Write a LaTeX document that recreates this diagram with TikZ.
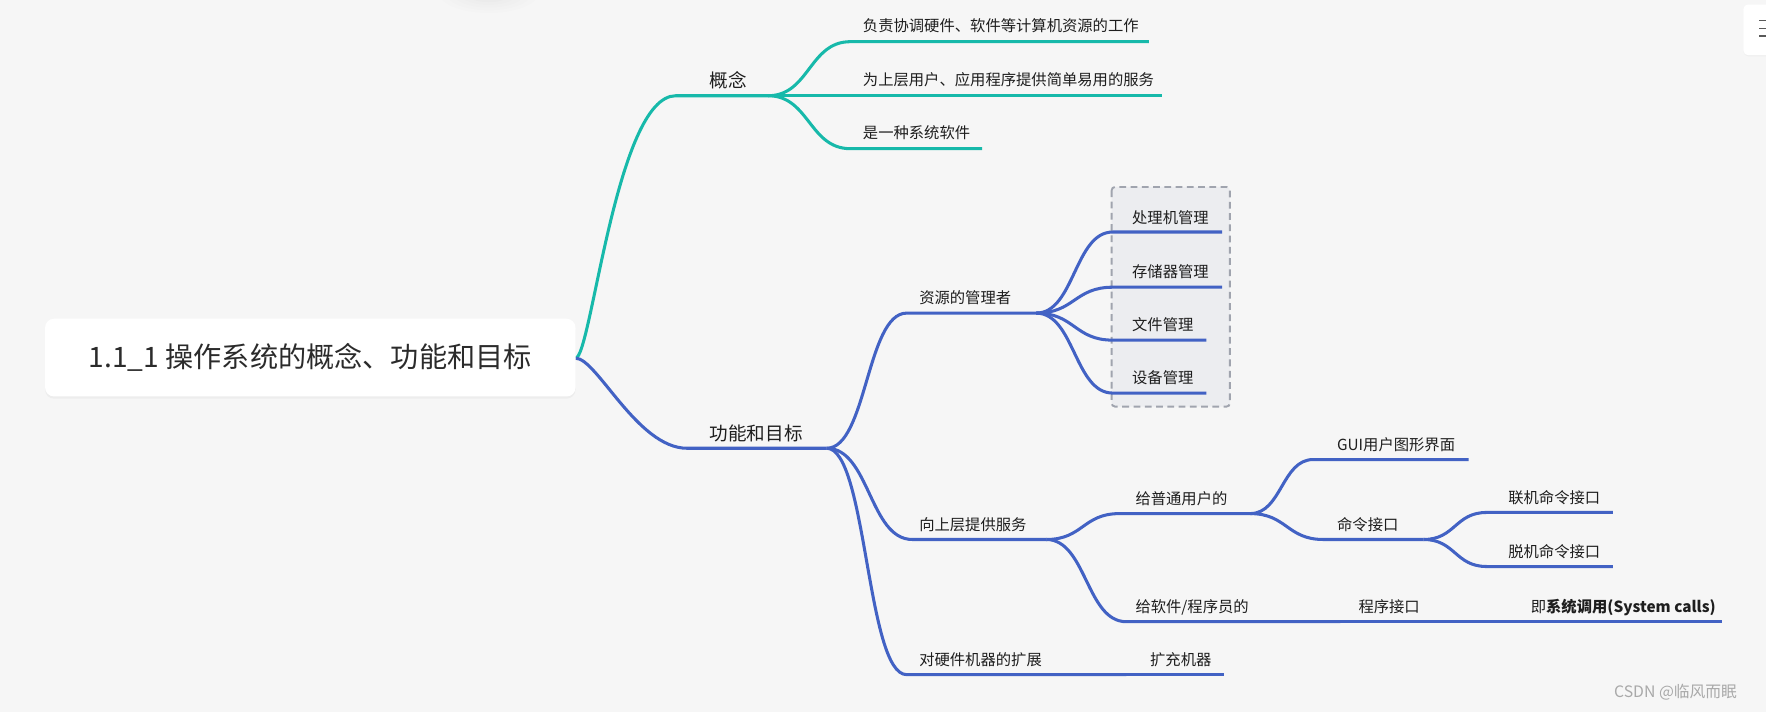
\documentclass[tikz,border=0pt]{standalone}
\usepackage{fontspec}
\setmainfont{Noto Sans CJK SC}
\usetikzlibrary{calc,shadows}
\definecolor{bg}{HTML}{F6F6F6}
\definecolor{tealc}{HTML}{17B9AA}
\definecolor{bluec}{HTML}{4262C4}
\definecolor{txt}{HTML}{1E1E1E}
\definecolor{roottxt}{HTML}{2B2B2B}
\definecolor{boxfill}{HTML}{ECEDF0}
\definecolor{boxline}{HTML}{A0A4AE}
\definecolor{wmark}{HTML}{A9A9A9}
% branch: style, junction, start of horizontal, end of horizontal
\newcommand\mmbranch[4]{\draw[#1] let \p1=(#2), \p2=(#3) in
  (#2) .. controls ({0.5*(\x1+\x2)},\y1) and ({0.5*(\x1+\x2)},\y2) .. (#3) -- (#4);}
\begin{document}
\begin{tikzpicture}[x=1pt,y=-1pt,
  tline/.style={tealc, line width=2.7pt, line join=round},
  bline/.style={bluec, line width=2.7pt, line join=round},
  leaf/.style={anchor=west, inner sep=0pt, text=txt, font=\fontsize{13.6}{16}\selectfont},
  lvl/.style={anchor=west, inner sep=0pt, text=txt, font=\fontsize{16.5}{19}\selectfont},
]
\useasboundingbox (0,0) rectangle (1568,632);
\fill[bg] (0,0) rectangle (1568,632);

% faint shadow at top edge
\foreach \r/\o in {44/0.006,38/0.007,32/0.008,26/0.009,20/0.01}{
  \fill[black, opacity=\o] (434,-6) ellipse [x radius=\r, y radius=0.4*\r];
}
% top-right card
\fill[white, rounded corners=4pt, drop shadow={opacity=0.05, shadow xshift=0pt, shadow yshift=-1pt}] (1548,4) rectangle (1590,49);
\foreach \yy in {18,25,32}{\draw[black!65, line width=1.1pt] (1562,\yy) -- (1568,\yy);}

% coordinates
\coordinate (R) at (511,318);
\coordinate (Cs) at (600,85);  \coordinate (C) at (682,85);
\coordinate (c1s) at (755,37); \coordinate (c1e) at (1020,37);
\coordinate (c2e) at (1032,85);
\coordinate (c3s) at (755,132); \coordinate (c3e) at (872,132);
\coordinate (Fs) at (610,398); \coordinate (F) at (734,398);
\coordinate (Ms) at (805,278); \coordinate (M) at (920,278);
\coordinate (m1s) at (988,206); \coordinate (m1e) at (1085,206);
\coordinate (m2s) at (988,255); \coordinate (m2e) at (1085,255);
\coordinate (m3s) at (988,302); \coordinate (m3e) at (1071,302);
\coordinate (m4s) at (988,349); \coordinate (m4e) at (1071,349);
\coordinate (Ss) at (810,479); \coordinate (S) at (929,479);
\coordinate (Us) at (994,456); \coordinate (U) at (1110,456);
\coordinate (Gs) at (1166,408); \coordinate (Ge) at (1304,408);
\coordinate (Ks) at (1175,479); \coordinate (K) at (1264,479);
\coordinate (k1s) at (1320,455); \coordinate (k1e) at (1432,455);
\coordinate (k2s) at (1320,503); \coordinate (k2e) at (1432,503);
\coordinate (Ps) at (1000,552); \coordinate (P1) at (1190,552);
\coordinate (P2) at (1340,552); \coordinate (Pe) at (1529,552);
\coordinate (Hs) at (805,599); \coordinate (H1) at (1000,599); \coordinate (He) at (1087,599);

% dashed group box
\draw[boxline, fill=boxfill, line width=1.7pt, dash pattern=on 6pt off 4pt, rounded corners=3pt] (987,166) rectangle (1092,361);

% teal branch
\draw[tline] (R) .. controls (525,318) and (547,85) .. (Cs) -- (C);
\mmbranch{tline}{C}{c1s}{c1e}
\draw[tline] (C) -- (c2e);
\mmbranch{tline}{C}{c3s}{c3e}

% blue branch
\draw[bline] (R) .. controls (530,318) and (566,398) .. (Fs) -- (F);
\mmbranch{bline}{F}{Ms}{M}
\mmbranch{bline}{M}{m1s}{m1e}
\mmbranch{bline}{M}{m2s}{m2e}
\mmbranch{bline}{M}{m3s}{m3e}
\mmbranch{bline}{M}{m4s}{m4e}
\mmbranch{bline}{F}{Ss}{S}
\mmbranch{bline}{S}{Us}{U}
\mmbranch{bline}{U}{Gs}{Ge}
\mmbranch{bline}{U}{Ks}{K}
\mmbranch{bline}{K}{k1s}{k1e}
\mmbranch{bline}{K}{k2s}{k2e}
\mmbranch{bline}{S}{Ps}{P1}
\draw[bline] (P1) -- (P2) -- (Pe);
\mmbranch{bline}{F}{Hs}{H1}
\draw[bline] (H1) -- (He);

% root box
\node[fill=white, rounded corners=8pt, minimum width=471pt, minimum height=69pt, inner sep=0pt,
  drop shadow={opacity=0.07, shadow xshift=0pt, shadow yshift=-2pt},
  text=roottxt, font=\fontsize{25}{30}\selectfont] (root) at (275.5,317.5) {1.1\_1 操作系统的概念、功能和目标};

% labels
\node[lvl] (gn) at (630,71) {概念};
\node[leaf] (g1) at (766,23) {负责协调硬件、软件等计算机资源的工作};
\node[leaf] (g2) at (766,71) {为上层用户、应用程序提供简单易用的服务};
\node[leaf] (g3) at (766,118) {是一种系统软件};
\node[lvl] (fn) at (630,385) {功能和目标};
\node[leaf] (zy) at (816,264) {资源的管理者};
\node[leaf] (z1) at (1005,193) {处理机管理};
\node[leaf] (z2) at (1005,241) {存储器管理};
\node[leaf] (z3) at (1005,288) {文件管理};
\node[leaf] (z4) at (1005,335) {设备管理};
\node[leaf] (xs) at (816,466) {向上层提供服务};
\node[leaf] (pt) at (1008,443) {给普通用户的};
\node[leaf] (gui) at (1187,395) {GUI用户图形界面};
\node[leaf] (ml) at (1187,466) {命令接口};
\node[leaf] (lj) at (1339,442) {联机命令接口};
\node[leaf] (tj) at (1339,490) {脱机命令接口};
\node[leaf] (rj) at (1008,539) {给软件/程序员的};
\node[leaf] (cx) at (1206,539) {程序接口};
\node[leaf] (xt) at (1359,539) {即\textbf{系统调用(System calls)}};
\node[leaf] (yj) at (816,586) {对硬件机器的扩展};
\node[leaf] (kc) at (1021,586) {扩充机器};

% watermark
\node[anchor=west, inner sep=0pt, text=wmark, font=\fontsize{14}{16}\selectfont] (wm) at (1433,615) {CSDN @临风而眠};
\end{tikzpicture}
\end{document}
